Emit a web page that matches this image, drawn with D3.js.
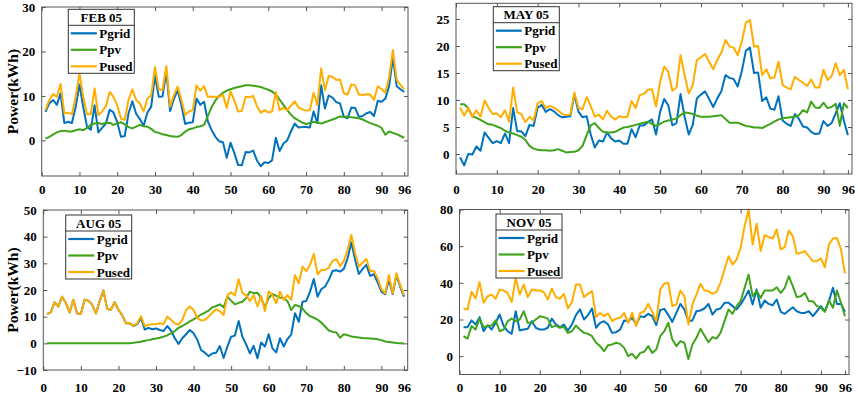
<!DOCTYPE html>
<html>
<head>
<meta charset="utf-8">
<script src="https://cdn.jsdelivr.net/npm/d3@7"></script>
<style>
  body { margin: 0; background: #fff; }
  svg text { font-family: "Liberation Serif", "Times New Roman", serif; font-weight: bold; fill: #000; }
</style>
</head>
<body>
<svg id="chart" width="858" height="395"></svg>
<script>
// time slots (15 min) of one day
const slots = d3.range(1, 97);
const xTicks = [0, 10, 20, 30, 40, 50, 60, 70, 80, 90, 96];
const seriesNames = ["Pgrid", "Ppv", "Pused"];
const seriesColors = ["#0072BD", "#3FA31C", "#FFAE00"];

// FEB 05
const febGrid = [6.4, 8.3, 9.1, 8.0, 10.6, 3.9, 4.2, 3.9, 7.5, 12.6,
  7.5, 3.1, 2.4, 7.9, 1.8, 2.8, 3.8, 6.9, 6.3, 4.1,
  0.8, 1.0, 6.1, 8.8, 6.0, 4.8, 3.3, 6.3, 7.6, 14.6,
  9.8, 9.9, 15.5, 6.6, 9.3, 11.3, 7.9, 3.7, 4.0, 4.1,
  9.4, 8.0, 8.7, 4.3, 2.3, 0.8, -0.2, -0.4, -3.9, -0.5,
  -2.8, -5.5, -5.6, -2.6, -2.7, -2.3, -4.5, -5.8, -4.9, -5.1,
  -4.5, 0.6, -2.4, -0.7, 0.0, 2.0, 3.8, 2.9, 3.0, 3.0,
  2.9, 6.5, 3.9, 12.4, 7.2, 10.1, 9.6, 8.6, 8.3, 5.3,
  5.0, 7.4, 7.3, 5.3, 5.5, 6.1, 6.4, 5.5, 8.9, 8.7,
  9.4, 12.2, 18.6, 12.2, 11.5, 10.9];
const febPv = [0.4, 0.8, 1.3, 1.8, 2.1, 2.2, 2.0, 2.0, 2.3, 2.5,
  2.3, 2.8, 3.5, 3.8, 3.9, 3.7, 3.9, 4.0, 3.5, 3.8,
  4.1, 3.6, 3.0, 2.7, 3.1, 3.5, 3.2, 3.1, 2.6, 1.9,
  1.7, 1.4, 1.2, 1.0, 0.9, 0.8, 1.2, 2.0, 2.5, 2.7,
  3.0, 3.2, 3.5, 5.5, 7.5, 9.0, 10.0, 10.7, 11.2, 11.5,
  11.8, 12.0, 12.2, 12.4, 12.4, 12.3, 12.2, 12.0, 11.7, 11.4,
  11.0, 10.3, 9.2, 8.0, 6.8, 5.8, 5.0, 4.5, 4.0, 3.7,
  3.9, 4.2, 4.0, 3.8, 4.1, 4.4, 4.7, 5.0, 5.4, 5.3,
  5.3, 5.2, 5.1, 5.0, 4.7, 4.3, 3.9, 3.6, 3.3, 2.8,
  1.3, 2.0, 1.7, 1.4, 1.0, 0.6];
const febUsed = [6.8, 9.1, 10.4, 9.8, 12.7, 6.1, 6.2, 5.9, 9.8, 15.1,
  9.8, 5.9, 5.9, 11.7, 5.7, 6.5, 7.7, 10.9, 9.8, 7.9,
  4.9, 4.6, 9.1, 11.5, 9.1, 8.3, 6.5, 9.4, 10.2, 16.5,
  11.5, 11.3, 16.7, 7.6, 10.2, 12.1, 9.1, 5.7, 6.5, 6.8,
  12.4, 11.2, 12.2, 9.8, 9.8, 9.8, 9.8, 10.3, 7.3, 11.0,
  9.0, 6.5, 6.6, 9.8, 9.7, 10.0, 7.7, 6.2, 6.8, 6.3,
  6.5, 10.9, 6.8, 7.3, 6.8, 7.8, 8.8, 7.4, 7.0, 6.7,
  6.8, 10.7, 7.9, 16.2, 11.3, 14.5, 14.3, 13.6, 13.7, 10.6,
  10.3, 12.6, 12.4, 10.3, 10.2, 10.4, 10.3, 9.1, 12.2, 11.5,
  10.7, 14.2, 20.3, 13.6, 12.5, 11.5];

// MAY 05
const mayGrid = [-0.6, -2.1, 0.0, -0.1, 1.4, 0.6, 4.0, 3.0, 2.0, 2.4,
  2.0, 3.8, 2.0, 8.5, 4.2, 4.2, 3.3, 5.4, 5.2, 8.6,
  9.1, 7.8, 8.3, 7.9, 7.2, 6.8, 6.9, 7.0, 11.0, 7.8,
  6.8, 7.0, 3.6, 1.2, 2.5, 2.3, 4.0, 2.9, 2.3, 2.5,
  1.9, 1.9, 4.6, 3.1, 5.3, 5.3, 5.9, 6.4, 3.6, 7.8,
  10.2, 9.0, 5.3, 5.7, 11.1, 6.9, 3.6, 5.4, 10.3, 11.0,
  11.6, 10.2, 8.7, 10.3, 11.6, 14.6, 14.1, 13.9, 12.5, 15.3,
  19.1, 19.7, 15.0, 15.1, 9.8, 10.5, 8.4, 8.2, 10.7, 6.2,
  5.6, 5.2, 7.4, 6.5, 5.1, 4.9, 4.1, 3.7, 3.8, 6.1,
  5.2, 5.7, 7.5, 9.4, 6.2, 3.5];
const mayPv = [9.2, 9.2, 8.5, 7.0, 6.7, 6.3, 5.9, 5.5, 5.4, 5.1,
  4.8, 4.3, 4.0, 3.8, 3.5, 3.2, 2.6, 1.5, 1.0, 0.8,
  0.7, 0.7, 0.6, 0.7, 0.9, 0.6, 0.3, 0.35, 0.4, 0.7,
  1.5, 3.5, 5.3, 5.7, 4.8, 4.1, 4.0, 4.0, 4.1, 4.5,
  4.9, 5.0, 5.2, 5.4, 5.6, 5.8, 6.0, 5.6, 5.2, 5.6,
  6.0, 6.2, 6.4, 6.6, 7.2, 7.7, 7.6, 7.4, 7.1, 6.9,
  6.9, 6.9, 7.0, 7.1, 7.2, 6.5, 5.8, 5.8, 5.8, 5.5,
  5.2, 5.1, 4.9, 4.9, 4.8, 5.2, 5.6, 6.0, 6.4, 6.6,
  6.7, 6.8, 6.9, 7.2, 8.1, 7.7, 9.7, 8.6, 8.5, 9.5,
  8.5, 8.7, 9.3, 5.2, 9.4, 8.5];
const mayUsed = [8.6, 7.1, 8.5, 6.9, 8.1, 6.9, 9.9, 8.5, 7.4, 7.5,
  6.8, 8.1, 6.0, 12.3, 7.7, 7.4, 5.9, 6.9, 6.2, 9.4,
  9.8, 8.5, 8.9, 8.6, 8.1, 7.4, 7.2, 7.3, 11.4, 8.5,
  8.3, 10.5, 8.9, 6.9, 7.3, 6.4, 8.0, 6.9, 6.4, 7.0,
  6.8, 6.9, 9.8, 8.5, 10.9, 11.1, 11.9, 12.0, 8.8, 13.4,
  16.2, 15.2, 11.7, 12.3, 18.3, 14.6, 11.2, 12.8, 17.4, 17.9,
  18.5, 17.1, 15.7, 17.4, 18.8, 21.1, 19.9, 19.7, 18.3, 20.8,
  24.3, 24.8, 19.9, 20.0, 14.6, 15.7, 14.0, 14.2, 17.1, 12.8,
  12.3, 12.0, 14.3, 13.7, 13.2, 12.6, 13.8, 12.3, 12.3, 15.6,
  13.7, 14.4, 16.8, 14.6, 15.6, 12.0];

// AUG 05
const augGrid = [11.0, 11.6, 15.4, 13.8, 17.5, 15.2, 11.6, 16.3, 11.2, 11.0,
  16.4, 16.0, 14.5, 11.2, 15.8, 19.8, 13.0, 12.6, 15.4, 12.6,
  10.6, 7.5, 7.5, 6.5, 7.2, 9.5, 5.2, 5.8, 5.3, 5.6,
  5.0, 4.6, 6.5, 4.8, 1.9, -0.2, 1.9, 3.4, 5.0, 3.8,
  1.3, -2.5, -3.5, -4.8, -3.8, -3.5, -1.0, -5.5, -1.2, 2.5,
  2.9, 8.4, 2.5, -0.4, -3.8, -0.9, -5.6, 0.3, -1.2, 3.4,
  -1.9, -3.4, 1.9, -1.2, 1.6, 3.4, 11.3, 8.1, 15.6, 15.9,
  19.4, 24.1, 17.5, 20.3, 21.3, 23.8, 27.1, 27.4, 26.9, 27.9,
  31.9, 37.9, 31.3, 26.0, 27.9, 29.4, 25.3, 25.9, 22.9, 19.4,
  18.4, 23.8, 18.5, 25.6, 21.3, 17.5];
const augPv = [0, 0, 0, 0, 0, 0, 0, 0, 0, 0,
  0, 0, 0, 0, 0, 0, 0, 0, 0, 0,
  0, 0, 0.05, 0.2, 0.4, 0.6, 1.0, 1.2, 1.5, 1.8,
  2.1, 2.5, 3.0, 3.7, 4.6, 5.8, 6.5, 7.3, 8.2, 9.0,
  9.8, 10.8, 11.5, 12.3, 13.5, 14.0, 14.6, 13.5, 17.5, 16.0,
  14.6, 15.2, 15.6, 17.0, 19.4, 18.8, 19.0, 16.9, 13.5, 17.0,
  18.5, 17.8, 17.2, 16.9, 15.8, 12.5, 14.4, 14.0, 13.0, 11.3,
  10.2, 9.6, 8.9, 7.8, 6.3, 4.8, 4.3, 4.1, 2.1, 3.4,
  3.0, 2.6, 2.4, 2.2, 2.0, 1.9, 1.8, 1.7, 1.5, 1.2,
  0.7, 0.5, 0.3, 0.1, 0.0, -0.1];
const augUsed = [11.0, 11.6, 15.4, 13.8, 17.5, 15.2, 11.6, 16.3, 11.2, 11.0,
  16.4, 16.0, 14.5, 11.2, 15.8, 19.8, 13.0, 12.6, 15.4, 12.6,
  10.6, 7.5, 7.6, 6.6, 7.5, 10.2, 6.4, 7.0, 7.2, 7.2,
  7.5, 7.2, 10.0, 8.8, 7.5, 7.0, 8.8, 12.5, 13.8, 12.5,
  9.5, 8.6, 8.8, 10.0, 11.5, 12.8, 12.0, 10.6, 18.0, 19.1,
  17.9, 24.0, 18.8, 18.1, 15.9, 18.1, 13.8, 17.8, 12.1, 19.4,
  18.1, 15.0, 19.4, 16.3, 18.1, 16.3, 25.6, 22.5, 28.8, 27.1,
  29.4, 33.5, 25.9, 27.5, 27.5, 28.4, 30.9, 31.6, 29.0, 30.9,
  35.0, 40.6, 33.8, 28.8, 30.3, 31.6, 27.1, 27.1, 24.4, 20.3,
  18.8, 25.6, 18.8, 26.3, 21.9, 18.1];

// NOV 05
const novGrid = [15.8, 15.8, 19.5, 17.3, 21.3, 13.6, 16.9, 14.5, 18.2, 22.7,
  16.4, 13.6, 12.2, 24.5, 14.0, 14.5, 14.9, 19.1, 15.5, 14.5,
  14.5, 15.5, 20.5, 17.3, 15.8, 17.3, 14.0, 17.3, 22.4, 25.5,
  20.0, 22.4, 26.0, 15.5, 18.2, 19.1, 17.3, 12.7, 13.1, 14.5,
  19.5, 19.1, 20.9, 17.3, 21.8, 21.3, 23.1, 21.8, 17.0, 25.2,
  25.8, 22.4, 18.7, 23.6, 28.5, 25.5, 19.1, 19.5, 24.5, 24.9,
  26.0, 28.5, 22.7, 25.5, 26.0, 29.1, 29.1, 27.3, 25.5, 28.2,
  31.8, 35.8, 28.2, 36.4, 26.4, 30.4, 28.5, 27.8, 30.9, 24.2,
  23.1, 24.9, 26.7, 24.5, 23.6, 23.6, 24.5, 21.8, 24.5, 27.3,
  24.5, 30.0, 37.3, 28.5, 28.5, 24.2];
const novPv = [10.9, 9.6, 16.4, 14.5, 20.5, 15.8, 16.4, 16.7, 19.5, 13.6,
  14.5, 19.1, 20.5, 19.1, 20.0, 24.5, 18.2, 18.2, 20.0, 21.8,
  21.3, 20.5, 15.8, 16.7, 15.5, 16.0, 12.7, 13.6, 16.7, 14.5,
  12.7, 12.2, 10.9, 7.3, 5.5, 2.7, 6.0, 6.4, 7.3, 6.7,
  4.5, 0.0, 1.3, -1.3, 1.8, 2.4, 5.5, 1.8, 3.6, 10.9,
  13.6, 18.2, 9.1, 5.5, 8.2, 7.3, -1.5, 6.4, 10.0, 14.9,
  11.3, 7.6, 10.4, 9.6, 12.7, 19.1, 25.5, 23.1, 27.3, 30.0,
  37.3, 44.5, 32.7, 35.5, 31.8, 35.8, 35.8, 35.8, 37.6, 34.5,
  37.3, 43.6, 38.2, 32.2, 32.7, 34.5, 30.0, 30.0, 27.3, 26.4,
  24.2, 30.4, 26.4, 35.8, 29.1, 21.8];
const novUsed = [26.0, 25.5, 35.1, 31.5, 40.4, 29.1, 32.7, 33.6, 31.3, 36.4,
  35.8, 34.5, 29.5, 42.7, 33.6, 39.1, 32.2, 36.4, 35.8, 35.8,
  34.9, 30.9, 36.9, 32.2, 31.3, 34.0, 26.0, 29.6, 39.1, 39.1,
  32.2, 34.0, 35.5, 21.3, 23.6, 21.8, 23.3, 19.1, 20.5, 20.9,
  23.6, 18.2, 23.6, 16.4, 23.6, 24.5, 28.5, 24.2, 19.0, 36.4,
  39.5, 40.0, 27.3, 28.2, 35.8, 32.7, 17.3, 28.2, 33.6, 39.5,
  35.8, 35.5, 34.0, 35.1, 40.0, 47.3, 54.5, 50.0, 52.7, 59.1,
  70.9, 80.0, 60.9, 72.2, 57.3, 66.0, 64.9, 64.2, 69.1, 58.2,
  59.5, 68.5, 65.5, 55.8, 56.4, 57.3, 54.5, 51.8, 51.8, 53.3,
  48.5, 60.9, 64.2, 64.5, 58.2, 45.1];

const febYTicks = [0, 10, 20, 30];
const mayYTicks = [0, 5, 10, 15, 20, 25];
const augYTicks = [-10, 0, 10, 20, 30, 40, 50];
const novYTicks = [0, 20, 40, 60, 80];

// panel layout: frame [left, right, top, bottom], legend box top-left
const panels = [
  { title: "FEB 05", series: [febGrid, febPv, febUsed], yTicks: febYTicks, yDomain: [-8, 30],
    frame: [41.7, 408, 7, 176], legend: [68.3, 9.3], xLabelY: 190, yLabel: true },
  { title: "MAY 05", series: [mayGrid, mayPv, mayUsed], yTicks: mayYTicks, yDomain: [-3.7, 27.9],
    frame: [456, 852, 3.3, 174], legend: [493.3, 6.7], xLabelY: 190, yLabel: false },
  { title: "AUG 05", series: [augGrid, augPv, augUsed], yTicks: augYTicks, yDomain: [-10, 50],
    frame: [43.3, 407.7, 210, 370], legend: [65.7, 215], xLabelY: 388, yLabel: true },
  { title: "NOV 05", series: [novGrid, novPv, novUsed], yTicks: novYTicks, yDomain: [-10, 80],
    frame: [459.5, 849, 209.5, 374.5], legend: [496, 214], xLabelY: 388, yLabel: false }
];

const svg = d3.select("#chart");
svg.append("rect").attr("width", 858).attr("height", 395).attr("fill", "#fff");

panels.forEach(function(p) {
  const [left, right, top, bottom] = p.frame;
  const x = d3.scaleLinear().domain([0, 97]).range([left, right]);
  const y = d3.scaleLinear().domain(p.yDomain).range([bottom, top]);
  const g = svg.append("g");

  // lines
  const line = d3.line().x((d, i) => x(slots[i])).y(d => y(d));
  p.series.forEach(function(values, k) {
    g.append("path")
      .datum(values)
      .attr("fill", "none")
      .attr("stroke", seriesColors[k])
      .attr("stroke-width", 2)
      .attr("stroke-linejoin", "round")
      .attr("d", line);
  });

  // axes, MATLAB style ticks pointing inward
  const xPad = p.xLabelY - bottom - 4.9;
  const bottomAxis = g.append("g").attr("transform", "translate(0," + bottom + ")")
    .call(d3.axisBottom(x).tickValues(xTicks).tickSize(-4).tickSizeOuter(0).tickPadding(xPad));
  const topAxis = g.append("g").attr("transform", "translate(0," + top + ")")
    .call(d3.axisTop(x).tickValues(xTicks).tickSize(-4).tickSizeOuter(0).tickFormat(""));
  const leftAxis = g.append("g").attr("transform", "translate(" + left + ",0)")
    .call(d3.axisLeft(y).tickValues(p.yTicks).tickSize(-4).tickSizeOuter(0).tickPadding(6.5));
  const rightAxis = g.append("g").attr("transform", "translate(" + right + ",0)")
    .call(d3.axisRight(y).tickValues(p.yTicks).tickSize(-4).tickSizeOuter(0).tickFormat(""));

  [bottomAxis, topAxis, leftAxis, rightAxis].forEach(function(a) {
    a.select(".domain").remove();
    a.selectAll(".tick line").attr("stroke", "#555");
    a.selectAll("text").attr("font-size", 13).attr("font-family", null).attr("fill", "#000");
  });

  g.append("rect")
    .attr("x", left).attr("y", top)
    .attr("width", right - left).attr("height", bottom - top)
    .attr("fill", "none").attr("stroke", "#555").attr("stroke-width", 1);

  if (p.yLabel) {
    svg.append("text")
      .attr("transform", "translate(18," + (top + bottom) / 2 + ") rotate(-90)")
      .attr("text-anchor", "middle")
      .attr("font-size", 15.5)
      .text("Power(kWh)");
  }

  // legend
  const [lx, ly] = p.legend;
  const lg = svg.append("g").attr("transform", "translate(" + lx + "," + ly + ")");
  lg.append("rect").attr("width", 66).attr("height", 64)
    .attr("fill", "#fff").attr("stroke", "#333").attr("stroke-width", 1);
  lg.append("line").attr("x1", 0).attr("x2", 66).attr("y1", 16).attr("y2", 16)
    .attr("stroke", "#333").attr("stroke-width", 1);
  lg.append("text").attr("x", 33).attr("y", 12.5).attr("text-anchor", "middle")
    .attr("font-size", 13).text(p.title);
  seriesNames.forEach(function(name, k) {
    const ry = 24 + k * 16.5;
    lg.append("line").attr("x1", 2.5).attr("x2", 28.5).attr("y1", ry).attr("y2", ry)
      .attr("stroke", seriesColors[k]).attr("stroke-width", 2.2);
    lg.append("text").attr("x", 31).attr("y", ry + 4.5).attr("font-size", 13).text(name);
  });
});
</script>
</body>
</html>
